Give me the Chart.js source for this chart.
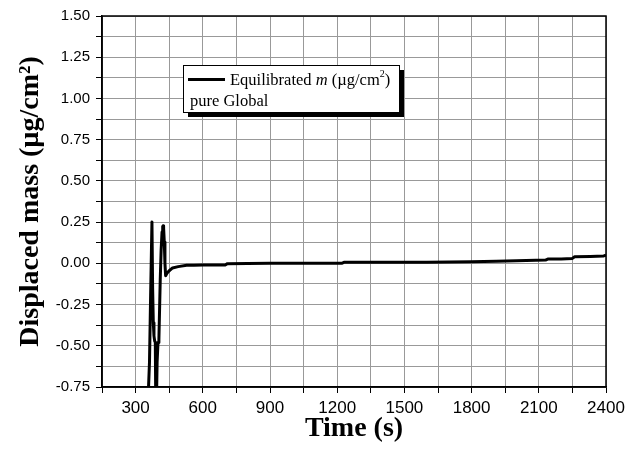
<!DOCTYPE html>
<html>
<head>
<meta charset="utf-8">
<script src="https://cdn.jsdelivr.net/npm/chart.js@4.4.1/dist/chart.umd.min.js"></script>
<style>
  html, body { margin: 0; padding: 0; background: #fff; }
  #wrap { width: 627px; height: 450px; }
</style>
</head>
<body>
<div id="wrap"><canvas id="c" width="627" height="450"></canvas></div>
<script>
// ---- data ----
const timeS = [355, 362, 367, 373, 376, 379, 382, 385, 388, 390, 393, 396, 400, 404, 410, 414, 418, 421, 423, 425, 428, 431, 434, 440, 450, 465, 490, 528, 560, 600, 650, 700, 710, 800, 900, 1000, 1100, 1220, 1230, 1400, 1600, 1700, 1800, 1910, 2000, 2130, 2140, 2200, 2250, 2260, 2330, 2390, 2400];
const massUg = [-0.85, -0.60, -0.20, 0.25, -0.15, -0.36, -0.44, -0.47, -0.48, -0.85, -0.85, -0.60, -0.48, -0.46, -0.10, 0.08, 0.19, 0.222, 0.228, 0.215, 0.13, 0.0, -0.075, -0.06, -0.045, -0.028, -0.02, -0.012, -0.011, -0.01, -0.01, -0.01, -0.002, -0.001, 0.0, 0.0, 0.0, 0.0, 0.006, 0.006, 0.007, 0.008, 0.010, 0.012, 0.015, 0.02, 0.026, 0.027, 0.03, 0.04, 0.042, 0.045, 0.05];
const xTickLabels = [300, 600, 900, 1200, 1500, 1800, 2100, 2400];
const yTickLabels = ["-0.75", "-0.50", "-0.25", "0.00", "0.25", "0.50", "0.75", "1.00", "1.25", "1.50"];
const legendLines = ["Equilibrated ", "m", " (\u00b5g/cm", "2", ")"];
const legendLine2 = "pure Global";
const xTitle = "Time (s)";
const yTitle = "Displaced mass (\u00b5g/cm\u00b2)";

const points = timeS.map((t, i) => ({ x: t, y: massUg[i] }));

const frame = {
  id: 'frame',
  afterDraw(chart) {
    const { ctx, chartArea: a } = chart;
    ctx.save();
    ctx.strokeStyle = '#000';
    ctx.lineWidth = 1.5;
    ctx.strokeRect(a.left, a.top, a.right - a.left, a.bottom - a.top);
    // legend box with shadow
    const bx = 183, by = 65, bw = 216, bh = 47;
    ctx.fillStyle = '#000';
    ctx.fillRect(bx + 5, by + 5, bw, bh);
    ctx.fillStyle = '#fff';
    ctx.fillRect(bx, by, bw, bh);
    ctx.lineWidth = 1;
    ctx.strokeStyle = '#000';
    ctx.strokeRect(bx + 0.5, by + 0.5, bw, bh);
    ctx.lineWidth = 3;
    ctx.beginPath();
    ctx.moveTo(188, 79.5);
    ctx.lineTo(225, 79.5);
    ctx.stroke();
    ctx.fillStyle = '#000';
    ctx.textBaseline = 'alphabetic';
    let x = 230;
    const base = 85;
    const fonts = ['16.5px "Liberation Serif"', 'italic 16.5px "Liberation Serif"', '16.5px "Liberation Serif"', '10px "Liberation Serif"', '16.5px "Liberation Serif"'];
    legendLines.forEach((s, i) => {
      ctx.font = fonts[i];
      const dy = i === 3 ? -8 : 0;
      ctx.fillText(s, x, base + dy);
      x += ctx.measureText(s).width;
    });
    ctx.font = '16.5px "Liberation Serif"';
    ctx.fillText(legendLine2, 190, 106);
    ctx.restore();
  }
};

new Chart(document.getElementById('c'), {
  type: 'scatter',
  data: {
    datasets: [{
      data: points,
      showLine: true,
      borderColor: '#000',
      borderWidth: 3,
      borderJoinStyle: 'round',
      pointRadius: 0,
      tension: 0
    }]
  },
  options: {
    responsive: false,
    animation: false,
    layout: { padding: { top: 16, right: 21, left: 0, bottom: 0 } },
    plugins: { legend: { display: false }, tooltip: { enabled: false } },
    scales: {
      x: {
        type: 'linear',
        min: 150, max: 2400,
        afterFit(s) { s.height = 63; s.paddingRight = 0; s.paddingLeft = 0; },
        afterBuildTicks(s) {
          const t = [];
          for (let v = 150; v <= 2400; v += 150) t.push({ value: v });
          s.ticks = t;
        },
        ticks: {
          autoSkip: false,
          maxRotation: 0,
          color: '#000',
          font: { family: '"Liberation Sans", Arial', size: 17 },
          padding: 5,
          callback(v) { return xTickLabels.includes(v) ? String(v) : ''; }
        },
        grid: { color: '#999', lineWidth: 1, tickColor: '#000', tickLength: 6 },
        border: { color: '#000', width: 1.5 },
        title: {
          display: true, text: xTitle, color: '#000',
          font: { family: '"Liberation Serif", "Times New Roman"', size: 28, weight: 'bold' },
          padding: { top: 0, bottom: 4 }
        }
      },
      y: {
        type: 'linear',
        min: -0.75, max: 1.5,
        afterFit(s) { s.width = 102; s.paddingTop = 0; s.paddingBottom = 0; },
        afterBuildTicks(s) {
          const t = [];
          for (let i = 0; i <= 18; i++) t.push({ value: -0.75 + i * 0.125 });
          s.ticks = t;
        },
        ticks: {
          autoSkip: false,
          color: '#000',
          font: { family: '"Liberation Sans", Arial', size: 15 },
          padding: 6,
          callback(v) {
            const k = Math.round((v + 0.75) / 0.125);
            return k % 2 === 0 ? yTickLabels[k / 2] : '';
          }
        },
        grid: { color: '#999', lineWidth: 1, tickColor: '#000', tickLength: 6 },
        border: { color: '#000', width: 1.5 },
        title: {
          display: true, text: yTitle, color: '#000',
          font: { family: '"Liberation Serif", "Times New Roman"', size: 28, weight: 'bold' },
          padding: { top: 14, bottom: 0 }
        }
      }
    }
  },
  plugins: [frame]
});
</script>
</body>
</html>
